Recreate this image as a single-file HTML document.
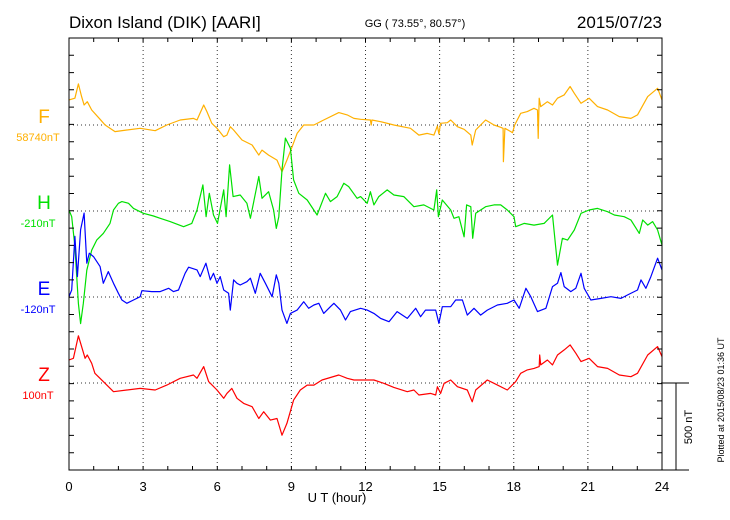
<!DOCTYPE html>
<html><head><meta charset="utf-8"><style>
html,body{margin:0;padding:0;background:#fff;}
svg{display:block;font-family:"Liberation Sans",sans-serif;}
</style></head><body>
<svg id="chart" width="730" height="520" viewBox="0 0 730 520" xmlns="http://www.w3.org/2000/svg">
<text x="69" y="28" font-size="17" fill="#000">Dixon Island (DIK)  [AARI]</text>
<text x="415" y="27" font-size="11" fill="#000" text-anchor="middle">GG ( 73.55°,  80.57°)</text>
<text x="662" y="28" font-size="17" fill="#000" text-anchor="end">2015/07/23</text>
<g id="grid"></g>
<g id="series"></g>
<g id="axes"></g>
<text x="337" y="502" font-size="13" text-anchor="middle" fill="#000">U T (hour)</text>
<text transform="translate(692,427) rotate(-90)" font-size="11" text-anchor="middle" fill="#000">500 nT</text>
<text transform="translate(724,400) rotate(-90)" font-size="9" text-anchor="middle" fill="#000">Plotted at 2015/08/23 01:36 UT</text>
</svg>
<script>
const xTicks=[0,3,6,9,12,15,18,21,24];
const seriesNames=["F","H","E","Z"];
const seriesBaseLabels=["58740nT","-210nT","-120nT","100nT"];
const seriesColors=["#ffb000","#00e000","#0000ff","#ff0000"];
const fHours=[0,0.24,0.38,0.51,0.61,0.74,0.92,1.26,1.46,1.86,2.34,2.88,3.49,3.96,4.5,5.04,5.18,5.45,5.58,5.78,5.99,6.26,6.39,6.53,6.66,7,7.41,7.68,7.81,8.08,8.42,8.62,8.82,9.03,9.23,9.5,9.91,10.31,10.92,11.26,11.53,11.8,12.2,12.23,12.26,12.61,13.15,13.82,14.16,14.5,14.77,14.91,14.97,15.04,15.31,15.45,15.72,15.99,16.26,16.32,16.46,16.86,17.2,17.47,17.57,17.58,17.64,17.88,17.95,18.04,18.28,18.55,18.82,18.96,18.99,19.03,19.09,19.36,19.57,19.77,20.04,20.28,20.45,20.72,21.05,21.39,21.8,22.27,22.74,23.01,23.42,23.82,24];
const fValues=[144,154,236,163,115,134,86,33,0,-38,-29,-19,-33,0,29,38,29,115,77,10,-19,-67,-58,-10,-29,-86,-115,-173,-144,-173,-202,-269,-202,-125,-48,0,0,29,71,58,38,33,29,0,29,19,0,-19,-58,-48,-58,-6,-52,10,13,29,-10,-25,-58,-115,-29,29,0,-13,-19,-211,-19,-38,-44,0,67,77,96,86,-77,154,106,134,115,154,173,221,182,125,154,106,86,48,38,58,163,211,144];
const hHours=[0,0.11,0.24,0.38,0.47,0.58,0.72,0.92,1.12,1.39,1.66,1.8,2,2.14,2.41,2.61,3.01,3.42,3.69,4.09,4.64,4.97,5.18,5.42,5.55,5.68,5.85,6.01,6.26,6.36,6.5,6.64,6.93,7.2,7.34,7.68,7.81,8.08,8.28,8.39,8.49,8.62,8.76,8.96,9.09,9.3,9.64,10.04,10.38,10.58,10.85,11.12,11.32,11.66,11.8,12.07,12.2,12.34,12.54,12.88,13.15,13.55,13.96,14.36,14.77,14.88,14.95,15.11,15.45,15.58,15.78,15.99,16.09,16.26,16.34,16.46,16.86,17.2,17.47,17.74,18.01,18.08,18.42,18.82,19.23,19.57,19.77,19.97,20.18,20.45,20.72,21.05,21.39,21.8,22.07,22.47,22.74,23.08,23.22,23.42,23.62,23.82,24];
const hValues=[6,-33,-205,-532,-647,-532,-340,-225,-167,-129,-71,6,44,54,44,15,-13,-29,-42,-61,-90,-71,6,150,-33,102,-23,-71,121,-33,265,83,92,44,-42,198,73,111,6,-100,-33,236,419,361,179,102,63,-23,102,54,83,159,140,73,83,44,111,35,83,121,92,83,25,35,6,121,-33,63,6,-42,-33,-148,35,25,-157,-13,25,35,35,6,-33,-90,-71,-81,-71,-23,-311,-157,-167,-109,-13,6,15,-4,-23,-33,-52,-129,-52,-81,-61,-109,-196];
const eHours=[0,0.11,0.24,0.34,0.47,0.61,0.72,0.82,0.99,1.26,1.39,1.59,1.8,2,2.14,2.34,2.61,2.88,2.95,3.35,3.69,4.03,4.23,4.43,4.7,4.84,5.18,5.31,5.54,5.72,5.85,5.99,6.12,6.26,6.46,6.53,6.66,6.8,6.93,7.2,7.34,7.54,7.74,7.95,8.22,8.39,8.49,8.62,8.82,8.96,9.23,9.5,9.7,9.91,10.11,10.31,10.58,10.72,10.99,11.19,11.39,11.8,12.07,12.34,12.61,12.95,13.28,13.69,14.03,14.23,14.43,14.84,14.97,15.11,15.45,15.65,15.92,16.12,16.39,16.66,16.93,17.34,17.74,18.01,18.22,18.49,18.69,18.96,19.3,19.57,19.77,19.91,20.04,20.31,20.51,20.72,20.85,21.12,21.53,21.93,22.34,22.61,23.01,23.15,23.35,23.55,23.82,24];
const eValues=[2,40,348,117,386,482,194,252,232,175,79,146,79,21,-17,-36,-17,2,36,31,31,50,31,40,136,171,156,117,194,98,136,79,117,40,21,-75,98,79,69,88,108,21,136,79,2,127,79,-75,-152,-94,-75,-27,-65,-46,-36,-94,-56,-36,-75,-132,-84,-65,-75,-94,-123,-142,-84,-123,-65,-113,-75,-75,-152,-56,-56,-17,-17,-104,-65,-104,-75,-46,-36,-17,-65,50,2,-84,-65,60,79,140,60,31,50,136,50,-17,-8,2,-8,12,40,98,50,117,223,156];
const zHours=[0,0.18,0.38,0.51,0.65,0.74,0.92,1.05,1.39,1.8,2.34,2.88,3.49,3.96,4.5,5.04,5.18,5.45,5.65,5.99,6.26,6.39,6.59,6.8,7.07,7.41,7.68,7.88,8.15,8.42,8.62,8.82,9.09,9.36,9.64,9.91,10.24,10.92,11.26,11.53,11.8,12.34,12.74,13.15,13.69,13.96,14.16,14.64,14.84,14.91,15.04,15.18,15.45,15.72,16.12,16.32,16.46,16.93,17.2,17.74,18.08,18.28,18.55,18.82,19.03,19.05,19.09,19.36,19.57,19.77,20.04,20.28,20.51,20.72,21.05,21.39,21.8,22.27,22.74,23.01,23.42,23.82,24];
const zValues=[132,142,271,209,142,161,113,56,8,-50,-40,-31,-40,-12,27,46,27,94,8,-40,-88,-60,-31,-88,-117,-136,-204,-165,-213,-204,-300,-232,-98,-40,-12,-12,17,46,27,17,17,17,-2,-25,-50,-40,-69,-60,-69,-21,-60,-2,17,-21,-40,-108,-40,17,-2,-40,8,56,75,84,94,161,104,132,104,161,190,219,171,123,142,94,84,46,36,56,161,209,152];

const NS='http://www.w3.org/2000/svg';
const L=69,R=662,T=38,B=470;
const baselines=[125,211,297,383];
const pxPerNT=87/500;
function xScale(h){return L+(R-L)*h/24;}
function yScale(i,v){return baselines[i]-v*pxPerNT;}
function mk(tag,attrs,parent){const e=document.createElementNS(NS,tag);for(const k in attrs)e.setAttribute(k,attrs[k]);parent.appendChild(e);return e;}
const grid=document.getElementById('grid'),axes=document.getElementById('axes'),ser=document.getElementById('series');
// vertical grid
xTicks.slice(1,-1).forEach(h=>{const l=mk('line',{x1:xScale(h),x2:xScale(h),y1:T,y2:B,stroke:'#333','stroke-width':1,'stroke-dasharray':'1,3'},grid);

});
baselines.forEach(b=>{const l=mk('line',{x1:L,x2:R,y1:b,y2:b,stroke:'#333','stroke-width':1,'stroke-dasharray':'1,3'},grid);

});
// series
const hs=[fHours,hHours,eHours,zHours],vs=[fValues,hValues,eValues,zValues];
for(let i=0;i<4;i++){
 const d=hs[i].map((h,j)=>(j?'L':'M')+xScale(h).toFixed(1)+','+yScale(i,vs[i][j]).toFixed(1)).join('');
 const p=mk('path',{d:d,fill:'none',stroke:seriesColors[i],'stroke-width':1.2,'stroke-linejoin':'round'},ser);
 
 
 const t=mk('text',{x:44,y:baselines[i]-2,'font-size':19,'text-anchor':'middle',fill:seriesColors[i]},axes);t.textContent=seriesNames[i];
 
 
 const t2=mk('text',{x:38,y:baselines[i]+16,'font-size':11,'text-anchor':'middle',fill:seriesColors[i]},axes);t2.textContent=seriesBaseLabels[i];
 
 
}
// frame
const fr=mk('rect',{x:L,y:T,width:R-L,height:B-T,fill:'none',stroke:'#000','stroke-width':1},axes);


let tk='';
for(let h=1;h<24;h++){const x=xScale(h).toFixed(1);tk+=`M${x},${T}v4M${x},${B}v-4`;}
for(let k=1;k<25;k++){const y=(T+k*(B-T)/25).toFixed(1);tk+=`M${L},${y}h5M${R},${y}h-5`;}
const tp=mk('path',{d:tk,stroke:'#000','stroke-width':1,fill:'none'},axes);


xTicks.forEach(h=>{const t=mk('text',{x:xScale(h),y:491,'font-size':13,'text-anchor':'middle',fill:'#000'},axes);t.textContent=h;

});
// scale bar
const sb=mk('path',{d:`M${R},383H689M${R},${B}H689M676,383V${B}`,stroke:'#000','stroke-width':1,fill:'none'},axes);


</script>
</body></html>
